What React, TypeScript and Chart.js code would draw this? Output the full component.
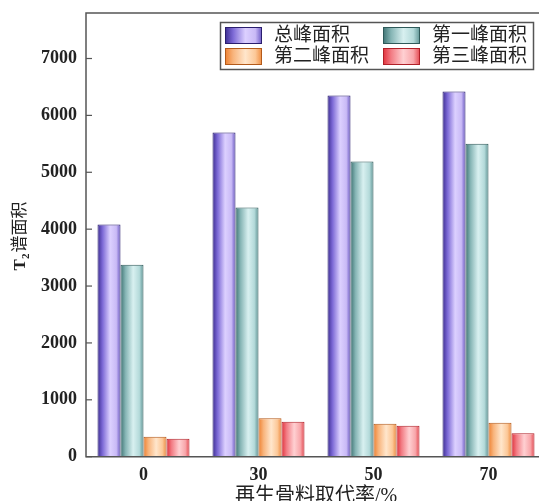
import React, { useEffect, useRef } from "react";
import { Chart, registerables } from "chart.js";

Chart.register(...registerables);

const categories = ["0", "30", "50", "70"];
const seriesNames = ["总峰面积", "第一峰面积", "第二峰面积", "第三峰面积"];
const totalPeak = [4080, 5700, 6350, 6420];
const firstPeak = [3375, 4380, 5190, 5500];
const secondPeak = [352, 676, 581, 599];
const thirdPeak = [317, 616, 546, 412];
const yMax = 7800;
const yTickValues = [0, 1000, 2000, 3000, 4000, 5000, 6000, 7000];

const gradStops = [
  ["#3b2c91", "#7d6ad6", "#dcd0ff", "#c9baf6", "#6a58c4"],
  ["#3e7373", "#86b5b5", "#d8f0f0", "#b4dada", "#5f9595"],
  ["#ee8030", "#f8b47c", "#ffe6cc", "#fcc898", "#ef8c40"],
  ["#e0303a", "#f27c84", "#ffd0d2", "#f8a6aa", "#e4474f"],
];
const borderCols = ["#2a1e6e", "#2f5a5a", "#b35a1a", "#b02028"];
const stopPos = [0, 0.22, 0.55, 0.82, 1];

const makeGrad = (ctx: CanvasRenderingContext2D, x0: number, x1: number, i: number) => {
  const g = ctx.createLinearGradient(x0, 0, x1, 0);
  gradStops[i].forEach((c, k) => g.addColorStop(stopPos[k], c));
  return g;
};

const CAT_PCT = 0.8;

const decorPlugin = {
  id: "decor",
  afterDraw(chart: any) {
    const { ctx, chartArea } = chart;
    const { left, right, top, bottom } = chartArea;
    const ys = chart.scales.y;
    ctx.save();
    ctx.strokeStyle = "#555";
    ctx.lineWidth = 1.5;
    ctx.beginPath();
    ctx.moveTo(left, top);
    ctx.lineTo(right, top);
    ctx.lineTo(right, bottom);
    ctx.lineTo(left, bottom);
    ctx.closePath();
    ctx.stroke();
    ctx.lineWidth = 1.2;
    ys.ticks.forEach((t: any) => {
      const y = ys.getPixelForValue(t.value);
      ctx.beginPath();
      ctx.moveTo(left, y);
      ctx.lineTo(left + 6, y);
      ctx.stroke();
    });

    // legend
    const lx = 220.5, ly = 22.5, lw = 313, lh = 47;
    ctx.fillStyle = "#fff";
    ctx.fillRect(lx, ly, lw, lh);
    ctx.strokeStyle = "#555";
    ctx.lineWidth = 1.5;
    ctx.strokeRect(lx, ly, lw, lh);
    const cols = [225, 383];
    const rows = [27, 48];
    ctx.font = '19px "Liberation Serif", "Noto Sans CJK SC", serif';
    ctx.textBaseline = "middle";
    ctx.textAlign = "left";
    seriesNames.forEach((name, i) => {
      const sx = cols[i % 2];
      const sy = rows[Math.floor(i / 2)];
      const sw = 37, sh = 17;
      ctx.fillStyle = makeGrad(ctx, sx, sx + sw, i);
      ctx.fillRect(sx, sy, sw, sh);
      ctx.strokeStyle = borderCols[i];
      ctx.lineWidth = 1;
      ctx.strokeRect(sx + 0.5, sy + 0.5, sw - 1, sh - 1);
      ctx.fillStyle = "#222";
      ctx.fillText(name, sx + 49, sy + sh / 2 + 1);
    });

    // y title
    ctx.save();
    ctx.translate(21, 236);
    ctx.rotate(-Math.PI / 2);
    ctx.fillStyle = "#222";
    ctx.textBaseline = "middle";
    ctx.textAlign = "left";
    const fT = 'bold 17px "Liberation Serif", serif';
    const fSub = 'bold 11px "Liberation Serif", serif';
    const fCn = '17px "Liberation Serif", "Noto Sans CJK SC", serif';
    ctx.font = fT;
    const wT = ctx.measureText("T").width;
    ctx.font = fSub;
    const wS = ctx.measureText("2").width;
    ctx.font = fCn;
    const wC = ctx.measureText("谱面积").width;
    const total = wT + wS + 1 + wC;
    let x = -total / 2;
    ctx.font = fT;
    ctx.fillText("T", x, 0);
    x += wT;
    ctx.font = fSub;
    ctx.fillText("2", x, 5);
    x += wS + 1;
    ctx.font = fCn;
    ctx.fillText("谱面积", x, 0);
    ctx.restore();

    // x title
    ctx.fillStyle = "#222";
    ctx.font = '20px "Liberation Serif", "Noto Sans CJK SC", serif';
    ctx.textAlign = "center";
    ctx.textBaseline = "alphabetic";
    ctx.fillText("再生骨料取代率/%", (left + right) / 2, 502);
    ctx.restore();
  },
};

const seriesData = [totalPeak, firstPeak, secondPeak, thirdPeak];

export default function App() {
  const ref = useRef<HTMLCanvasElement>(null);
  useEffect(() => {
    if (!ref.current) return;
    const chart = new Chart(ref.current, {
      type: "bar",
      data: {
        labels: categories,
        datasets: seriesData.map((d, i) => ({
          label: seriesNames[i],
          data: d,
          backgroundColor: (c: any) => {
            const ch = c.chart;
            const xs = ch.scales && ch.scales.x;
            if (!xs || c.type !== "data" || !xs.width) return gradStops[i][2];
            const catW = xs.width / categories.length;
            const barW = (catW * CAT_PCT) / seriesData.length;
            const center = xs.getPixelForValue(c.dataIndex);
            const l = center - (catW * CAT_PCT) / 2 + c.datasetIndex * barW;
            return makeGrad(ch.ctx, l, l + barW, i);
          },
          borderColor: borderCols[i],
          borderWidth: 1,
          categoryPercentage: CAT_PCT,
          barPercentage: 1,
        })),
      },
      options: {
        responsive: false,
        animation: false,
        devicePixelRatio: 1,
        layout: { padding: { top: 13, right: 14, left: 0, bottom: 0 } },
        plugins: { legend: { display: false }, tooltip: { enabled: false } },
        scales: {
          x: {
            grid: { display: false, drawTicks: false },
            border: { display: false },
            ticks: {
              color: "#222",
              padding: 8,
              font: { family: '"Liberation Serif", serif', size: 18, weight: "bold" },
            },
            afterFit: (s: any) => {
              s.height = 44.3;
            },
          },
          y: {
            min: 0,
            max: yMax,
            grid: { display: false, drawTicks: false },
            border: { display: false },
            ticks: {
              color: "#222",
              padding: 9,
              autoSkip: false,
              callback: (v: any) => String(v),
              font: { family: '"Liberation Serif", serif', size: 18, weight: "bold" },
            },
            afterBuildTicks: (s: any) => {
              s.ticks = yTickValues.map((v) => ({ value: v }));
            },
            afterFit: (s: any) => {
              s.width = 86;
              s.paddingTop = 0;
              s.paddingBottom = 0;
            },
          },
        },
      },
      plugins: [decorPlugin],
    });
    return () => chart.destroy();
  }, []);
  return (
    <div
      style={{
        position: "absolute",
        left: 0,
        top: 0,
        width: 539,
        height: 501,
        overflow: "hidden",
        background: "#fff",
      }}
    >
      <canvas ref={ref} width={560} height={501} style={{ width: 560, height: 501, display: "block" }} />
    </div>
  );
}
